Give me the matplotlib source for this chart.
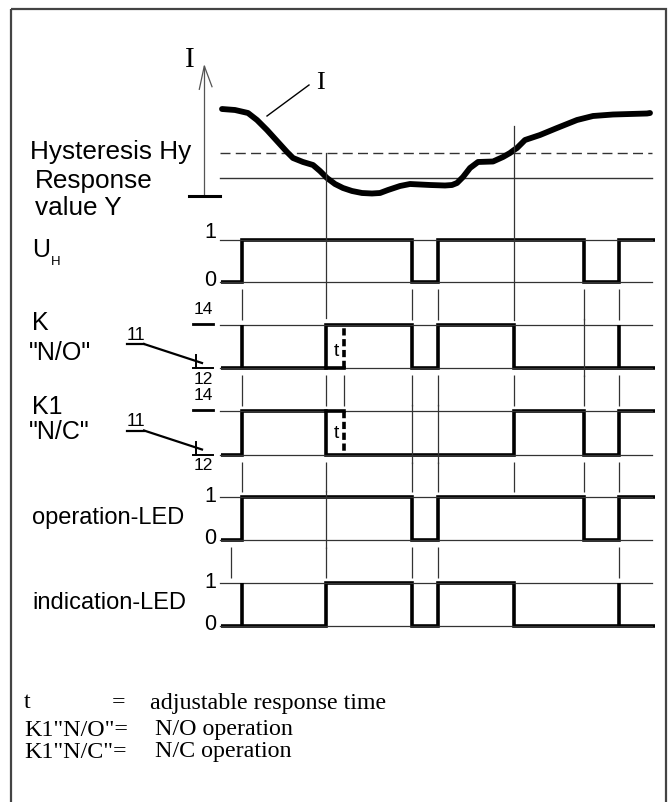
import matplotlib
matplotlib.use('Agg')
import matplotlib.pyplot as plt
from matplotlib.patches import Rectangle

# ---------------- data (time axis in diagram units) ----------------
t_start, t_end = 221, 655
t_power_on = 242
t_below = 326          # I falls below response value
t_delay = 344          # end of adjustable response time t
t_off1, t_on1 = 412, 438
t_above = 514          # I rises above hysteresis
t_off2, t_on2 = 584, 619
t_led_tick = 231

# measured current curve I
curve_t = [222, 235, 248, 257, 267, 277, 287, 293, 303, 313, 320, 327, 335, 343,
           352, 362, 372, 380, 388, 400, 410, 420, 430, 445, 452, 457, 463, 470,
           478, 493, 503, 510, 514, 517, 525, 540, 557, 577, 593, 613, 630, 647, 650]
curve_i = [109, 110, 113, 120, 130, 141, 152, 158, 162, 165, 171, 178, 184, 188,
           191, 193, 193.5, 193, 190, 186, 184, 184.5, 185, 185.5, 185, 183, 177, 168,
           162, 161.5, 157, 153, 150, 148, 140, 135, 128, 120, 116, 114.5, 114, 113.5, 113]
hyst_level = 152.5
resp_level = 178

# signals: edges + levels per interval
uh_edges = [t_start, t_power_on, t_off1, t_on1, t_off2, t_on2, t_end]
uh_levels = [0, 1, 0, 1, 0, 1]
k_no_edges = [t_start, t_below, t_off1, t_on1, t_above, t_end]
k_no_levels = [0, 1, 0, 1, 0]
k_no_spikes = [t_power_on, t_on2]
k_nc_edges = [t_start, t_power_on, t_below, t_above, t_off2, t_on2, t_end]
k_nc_levels = [0, 1, 0, 1, 0, 1]
op_edges = [t_start, t_power_on, t_off1, t_on1, t_off2, t_on2, t_end]
op_levels = [0, 1, 0, 1, 0, 1]
ind_edges = [t_start, t_below, t_off1, t_on1, t_above, t_end]
ind_levels = [0, 1, 0, 1, 0]
ind_spikes = [t_power_on, t_on2]

row_names = ["U", "K", "K1", "operation-LED", "indication-LED"]
level_labels = [("1", "0"), ("14", "12"), ("14", "12"), ("1", "0"), ("1", "0")]

# ---------------- layout ----------------
rows = [(240, 282), (325, 368), (411, 454.5), (497, 539.5), (582.5, 626)]
ref_x0, ref_x1 = 220, 652

SANS = ['Liberation Sans', 'DejaVu Sans']
SERIF = ['Liberation Serif', 'DejaVu Serif']
THICK = 2.6
THIN = 0.9
GRAY = '#333333'

fig = plt.figure(figsize=(6.71, 8.02), dpi=100)
ax = fig.add_axes([0, 0, 1, 1])
ax.set_xlim(0, 671)
ax.set_ylim(802, 0)
ax.axis('off')

# frame
ax.add_patch(Rectangle((11, 8.5), 655, 800, fill=False, lw=1.6, ec='#444444'))

# ---------- current section ----------
ax.plot([204.3, 204.3], [195.7, 66], color='#555555', lw=THIN)
ax.plot([199.3, 204.3, 212], [89.3, 66, 86.7], color='#555555', lw=THIN)
ax.plot([189.3, 220], [195.7, 195.7], color='black', lw=2.2)
ax.text(185, 60, "I", family=SERIF, fontsize=21, ha='left', va='center')

ax.plot([ref_x0, ref_x1], [hyst_level, hyst_level], color=GRAY, lw=1.0,
        dashes=(7.2, 3.8))
ax.plot([ref_x0, ref_x1], [resp_level, resp_level], color=GRAY, lw=1.0)
ax.plot(curve_t, curve_i, color='black', lw=4.2, solid_capstyle='round',
        solid_joinstyle='round')
ax.plot([267, 309], [116, 85], color='black', lw=1.0)
ax.text(316, 83, "I", family=SERIF, fontsize=19, ha='left', va='center')

ax.text(30, 152, "Hysteresis Hy", family=SANS, fontsize=18.8, ha='left', va='center')
ax.text(35, 181, "Response", family=SANS, fontsize=18.8, ha='left', va='center')
ax.text(35, 208, "value Y", family=SANS, fontsize=18.8, ha='left', va='center')

# long guide lines from curve crossings
ax.plot([t_below, t_below], [hyst_level, 318], color=GRAY, lw=THIN)
ax.plot([t_above, t_above], [126, 320], color=GRAY, lw=THIN)

# ---------- signal rows ----------
def ymap(row, lvl):
    hi, lo = rows[row]
    return lo - lvl * (lo - hi)

for hi, lo in rows:
    ax.plot([ref_x0, ref_x1], [hi, hi], color=GRAY, lw=THIN)
    ax.plot([ref_x0, ref_x1], [lo, lo], color=GRAY, lw=THIN)

signals = [(uh_edges, uh_levels, []),
           (k_no_edges, k_no_levels, k_no_spikes),
           (k_nc_edges, k_nc_levels, []),
           (op_edges, op_levels, []),
           (ind_edges, ind_levels, ind_spikes)]
for r, (edges, levels, spikes) in enumerate(signals):
    ax.stairs([ymap(r, v) for v in levels], edges, baseline=None,
              color='black', lw=THICK, joinstyle='miter')
    if spikes:
        ax.vlines(spikes, ymap(r, 0), ymap(r, 1), color='black', lw=THICK)

# response-time delay marks
ax.plot([t_below, t_delay], [ymap(1, 0), ymap(1, 0)], color='black', lw=THICK)
ax.plot([t_delay, t_delay], [ymap(1, 0), ymap(1, 1)], color='black', lw=THICK,
        dashes=(2.0, 1.0))
ax.plot([t_below, t_delay], [ymap(2, 1), ymap(2, 1)], color='black', lw=THICK)
ax.plot([t_delay, t_delay], [ymap(2, 1), ymap(2, 0)], color='black', lw=THICK,
        dashes=(2.0, 1.0))
ax.text(336.5, 352, "t", family=SANS, fontsize=14, ha='center', va='center')
ax.text(336.5, 434, "t", family=SANS, fontsize=14, ha='center', va='center')

# guide ticks between rows
gap_events = [
    [t_power_on, t_off1, t_on1, t_off2, t_on2],
    [t_power_on, t_below, t_delay, t_off1, t_on1, t_above, t_off2, t_on2],
    [t_power_on, t_below, t_off1, t_on1, t_above, t_off2, t_on2],
    [t_led_tick, t_below, t_off1, t_on1, t_on2],
]
for g, evs in enumerate(gap_events):
    y0 = rows[g][1] + 7
    y1 = rows[g + 1][0] - 5
    ax.vlines(evs, y0, y1, color=GRAY, lw=THIN)
passthrough = [(t_off2, 1), (t_off1, 2), (t_on1, 2), (t_below, 3)]
for t, r in passthrough:
    ax.plot([t, t], [rows[r][0] - 6, rows[r][1] + 8], color=GRAY, lw=THIN)

# row labels
ax.text(32, 250, "U", family=SANS, fontsize=18, ha='left', va='center')
ax.text(51, 262, "H", family=SANS, fontsize=9.5, ha='left', va='center')
ax.text(32, 323, "K", family=SANS, fontsize=18, ha='left', va='center')
ax.text(29, 353, '"N/O"', family=SANS, fontsize=18, ha='left', va='center')
ax.text(32, 407, "K1", family=SANS, fontsize=18, ha='left', va='center')
ax.text(29, 432, '"N/C"', family=SANS, fontsize=18, ha='left', va='center')
ax.text(32, 518, row_names[3], family=SANS, fontsize=17, ha='left', va='center')
ax.text(32, 603, row_names[4], family=SANS, fontsize=17, ha='left', va='center')

# 1/0 level labels
one_offsets = {0: -7, 3: 0, 4: 0}
for r, off in one_offsets.items():
    hi, lo = rows[r]
    ax.text(216, hi + off, level_labels[r][0], family=SANS, fontsize=15.5,
            ha='right', va='center')
    ax.text(216, lo - 1, level_labels[r][1], family=SANS, fontsize=15.5,
            ha='right', va='center')

# contact symbols (11 / 12 / 14)
for r in (1, 2):
    hi, lo = rows[r]
    ax.text(203, hi - 15, level_labels[r][0], family=SANS, fontsize=12.5,
            ha='center', va='center')
    ax.plot([193, 213], [hi - 1.5, hi - 1.5], color='black', lw=2.0)
    ax.text(203, lo + 11, level_labels[r][1], family=SANS, fontsize=12.5,
            ha='center', va='center')
    ax.plot([193, 213], [lo, lo], color='black', lw=1.4)
    ax.plot([195.7, 195.7], [lo - 13, lo], color='black', lw=1.4)
    ax.text(135.5, lo - 33, "11", family=SANS, fontsize=13, ha='center', va='center')
    ax.plot([127, 144], [lo - 24, lo - 24], color='black', lw=1.6)
    ax.plot([144, 202], [lo - 24, lo - 5], color='black', lw=1.6)

# legend text
LF = 17.3
ax.text(24, 703, "t", family=SERIF, fontsize=LF, ha='left', va='center')
ax.text(112, 703, "=", family=SERIF, fontsize=LF, ha='left', va='center')
ax.text(150, 703, "adjustable response time", family=SERIF, fontsize=LF,
        ha='left', va='center')
ax.text(24, 730, 'K1"N/O"=', family=SERIF, fontsize=LF, ha='left', va='center')
ax.text(155, 730, "N/O operation", family=SERIF, fontsize=LF, ha='left', va='center')
ax.text(24, 752, 'K1"N/C"=', family=SERIF, fontsize=LF, ha='left', va='center')
ax.text(155, 752, "N/C operation", family=SERIF, fontsize=LF, ha='left', va='center')

fig.savefig("out.png", dpi=100)
